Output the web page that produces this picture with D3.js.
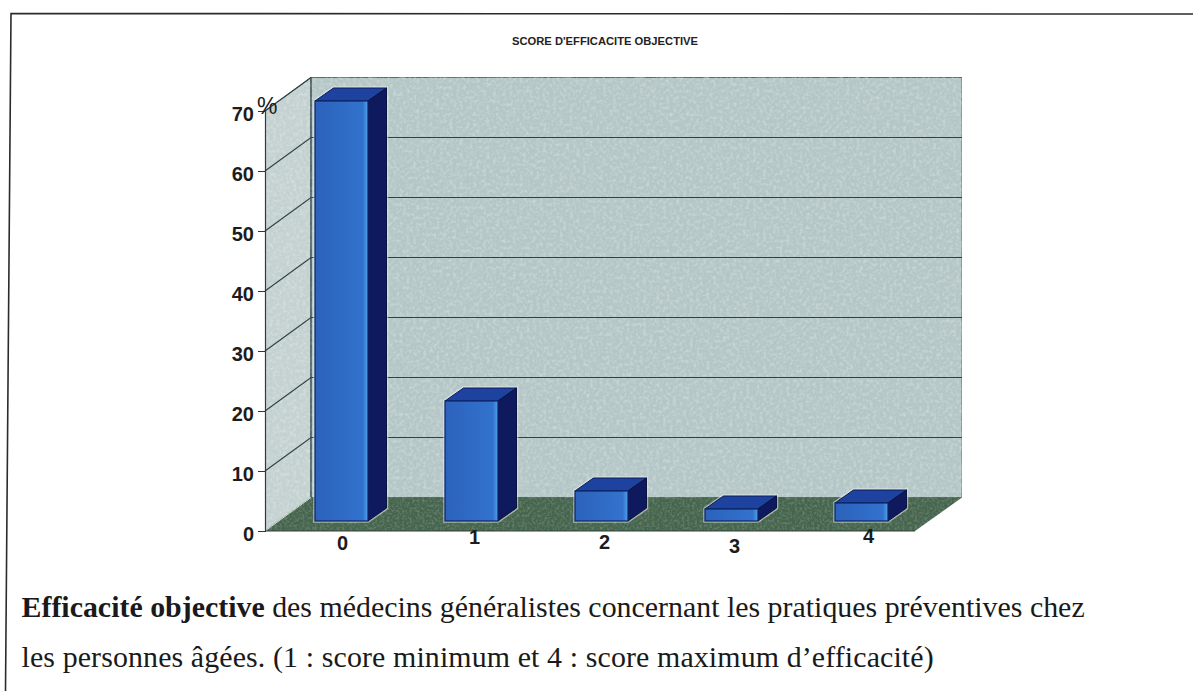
<!DOCTYPE html>
<html>
<head>
<meta charset="utf-8">
<script src="https://cdn.jsdelivr.net/npm/d3@7"></script>
<style>
  html, body { margin: 0; padding: 0; background: #fff; }
  svg { display: block; }
  .tick-label { font-family: "Liberation Sans", Arial, sans-serif; font-weight: bold; font-size: 20px; fill: #1c1c1c; }
  .caption { font-family: "Liberation Serif", "Times New Roman", serif; font-size: 29.9px; fill: #1a1a1a; }
</style>
</head>
<body>
<div id="chart"></div>
<script>
// values
var scores = ['0', '1', '2', '3', '4'];
var percents = [70, 20, 5, 2, 3];
var yTicks = [0, 10, 20, 30, 40, 50, 60, 70];
// the scanned labels sit a bit crooked, these are their offsets
var labelJitter = [
  { dx: 1, dy: 1 },
  { dx: 3, dy: -5 },
  { dx: 3, dy: 0 },
  { dx: 3, dy: 4 },
  { dx: 7, dy: -6 }
];
var chartTitle = "SCORE D'EFFICACITE OBJECTIVE";
var captionBold = 'Efficacité objective';
var captionRest = ' des médecins généralistes concernant les pratiques préventives chez';
var captionLine2 = 'les personnes âgées. (1 : score minimum et 4 : score maximum d’efficacité)';

var width = 1193, height = 691;
var depthX = 46, depthY = -33.5; // wall / floor depth
var barDepthX = 18.5, barDepthY = -13; // bar depth
var barShift = 11.5, barLift = -10; // bars stand inside the floor

var svg = d3.select('#chart').append('svg')
  .attr('width', width)
  .attr('height', height);

var x = d3.scaleBand()
  .domain(scores)
  .range([265, 915])
  .paddingInner(0.592)
  .paddingOuter(0.296);

var y = d3.scaleLinear()
  .domain([0, 70])
  .range([531, 111]);

var defs = svg.append('defs');

// speckle for the printed look
function speckle(id, freq, amount) {
  var f = defs.append('filter').attr('id', id)
    .attr('x', 0).attr('y', 0).attr('width', '100%').attr('height', '100%');
  f.append('feTurbulence')
    .attr('type', 'fractalNoise')
    .attr('baseFrequency', freq)
    .attr('numOctaves', 3)
    .attr('seed', 4)
    .attr('result', 'noise');
  f.append('feColorMatrix')
    .attr('in', 'noise')
    .attr('type', 'matrix')
    .attr('values', '0 0 0 0 1  0 0 0 0 1  0 0 0 0 1  ' + amount + ' 0 0 0 ' + (-amount * 0.42))
    .attr('result', 'spots');
  f.append('feComposite')
    .attr('in', 'spots')
    .attr('in2', 'SourceGraphic')
    .attr('operator', 'in')
    .attr('result', 'clipped');
  f.append('feMerge').selectAll('feMergeNode')
    .data(['SourceGraphic', 'clipped'])
    .enter().append('feMergeNode')
    .attr('in', function(d) { return d; });
}
speckle('grain', 0.3, 0.6);
speckle('grainDark', 0.4, 0.22);

var frontGrad = defs.append('linearGradient').attr('id', 'barFront')
  .attr('x1', 0).attr('x2', 1).attr('y1', 0).attr('y2', 0);
frontGrad.append('stop').attr('offset', '0%').attr('stop-color', '#2c62bb');
frontGrad.append('stop').attr('offset', '90%').attr('stop-color', '#3272cd');
frontGrad.append('stop').attr('offset', '97%').attr('stop-color', '#4794e2');
frontGrad.append('stop').attr('offset', '100%').attr('stop-color', '#4794e2');

// scan frame, only top and left survive
svg.append('path')
  .attr('d', 'M5.5,691L11,13.5L1193,14')
  .attr('fill', 'none')
  .attr('stroke', '#2b2b2b')
  .attr('stroke-width', 1.6);

// title
svg.append('text')
  .attr('x', 512)
  .attr('y', 44.5)
  .attr('font-family', '"Liberation Sans", Arial, sans-serif')
  .attr('font-weight', 'bold')
  .attr('font-size', 10)
  .attr('fill', '#222')
  .attr('textLength', 186)
  .attr('lengthAdjust', 'spacingAndGlyphs')
  .text(chartTitle);

var x0 = x.range()[0], x1 = x.range()[1];
var yBase = y(0), yTop = y(70);

function pts(list) {
  return list.map(function(p) { return p.join(','); }).join(' ');
}

// left wall
svg.append('polygon')
  .attr('points', pts([[x0, yBase], [x0, yTop], [x0 + depthX, yTop + depthY], [x0 + depthX, yBase + depthY]]))
  .attr('fill', '#c4d1d1')
  .attr('stroke', '#3d4f4f')
  .attr('stroke-width', 1)
  .attr('filter', 'url(#grain)');

// back wall
svg.append('rect')
  .attr('x', x0 + depthX)
  .attr('y', yTop + depthY)
  .attr('width', x1 - x0 + 1)
  .attr('height', yBase - yTop)
  .attr('fill', '#b4c6c6')
  .attr('stroke', '#5a6a6a')
  .attr('stroke-width', 1)
  .attr('filter', 'url(#grain)');

// floor
svg.append('polygon')
  .attr('points', pts([[x0, yBase], [x1, yBase], [x1 + depthX + 1, yBase + depthY], [x0 + depthX, yBase + depthY]]))
  .attr('fill', '#45664e')
  .attr('filter', 'url(#grainDark)');
svg.append('line')
  .attr('x1', x0).attr('x2', x1)
  .attr('y1', yBase).attr('y2', yBase)
  .attr('stroke', '#2f4238').attr('stroke-width', 1);

// gridlines along wall and back
var grid = svg.append('g').attr('fill', 'none').attr('stroke', '#2e4444').attr('stroke-width', 1.2);
yTicks.slice(1).forEach(function(t) {
  var py = y(t);
  var end = t === 70 ? x0 + depthX : x1 + depthX + 1;
  grid.append('path')
    .attr('d', 'M' + x0 + ',' + py + 'L' + (x0 + depthX) + ',' + (py + depthY) + 'L' + end + ',' + (py + depthY));
});
// wall corner
svg.append('line')
  .attr('x1', x0 + depthX).attr('x2', x0 + depthX)
  .attr('y1', yTop + depthY).attr('y2', yBase + depthY)
  .attr('stroke', '#2e4444').attr('stroke-width', 1);
svg.append('line')
  .attr('x1', x0).attr('x2', x0 + depthX)
  .attr('y1', yBase).attr('y2', yBase + depthY)
  .attr('stroke', '#cfdad4').attr('stroke-width', 1);

// y axis
var yAxis = d3.axisLeft(y).tickValues(yTicks).tickSize(7).tickPadding(4).tickFormat(d3.format('d'));
var yAxisG = svg.append('g')
  .attr('transform', 'translate(' + x0 + ',0)')
  .call(yAxis);
yAxisG.select('.domain').attr('stroke', '#2e3d3d').attr('stroke-width', 1.2);
yAxisG.selectAll('.tick line').attr('stroke', '#333');
yAxisG.selectAll('.tick text').attr('class', 'tick-label').attr('fill', null).attr('dy', '0.45em');

// percent sign
svg.append('text')
  .attr('class', 'tick-label')
  .attr('x', 257)
  .attr('y', 114)
  .style('font-weight', 'normal')
  .style('font-size', '23px')
  .text('%');

// bars
var bars = svg.append('g').selectAll('g.bar')
  .data(scores.map(function(s, i) { return { score: s, value: percents[i] }; }))
  .enter().append('g')
  .attr('class', 'bar')
  .attr('transform', 'translate(' + barShift + ',' + barLift + ')');

function barTopFace(d) {
  var l = x(d.score), r = l + x.bandwidth(), t = y(d.value);
  return [[l, t], [r, t], [r + barDepthX, t + barDepthY], [l + barDepthX, t + barDepthY]];
}
function barSideFace(d) {
  var r = x(d.score) + x.bandwidth(), t = y(d.value);
  return [[r, t], [r, yBase], [r + barDepthX, yBase + barDepthY], [r + barDepthX, t + barDepthY]];
}
function barOutline(d) {
  var l = x(d.score), r = l + x.bandwidth(), t = y(d.value);
  return [[l, t], [l + barDepthX, t + barDepthY], [r + barDepthX, t + barDepthY], [r + barDepthX, yBase + barDepthY], [r, yBase], [l, yBase]];
}

// light halo left by the scan
bars.append('polygon')
  .attr('points', function(d) { return pts(barOutline(d)); })
  .attr('fill', 'none')
  .attr('stroke', '#eef3ee')
  .attr('stroke-opacity', 0.55)
  .attr('stroke-width', 3.5);

bars.append('polygon')
  .attr('points', function(d) { return pts(barTopFace(d)); })
  .attr('fill', '#1d429f')
  .attr('stroke', '#0c1a55')
  .attr('stroke-width', 1);

bars.append('polygon')
  .attr('points', function(d) { return pts(barSideFace(d)); })
  .attr('fill', '#0f1a5e')
  .attr('stroke', '#0a1242')
  .attr('stroke-width', 1);

bars.append('rect')
  .attr('x', function(d) { return x(d.score); })
  .attr('y', function(d) { return y(d.value); })
  .attr('width', x.bandwidth())
  .attr('height', function(d) { return yBase - y(d.value); })
  .attr('fill', 'url(#barFront)')
  .attr('stroke', '#0d2466')
  .attr('stroke-width', 1.2);

// x labels
svg.append('g').selectAll('text')
  .data(scores)
  .enter().append('text')
  .attr('class', 'tick-label')
  .attr('text-anchor', 'middle')
  .attr('x', function(d, i) { return x(d) + x.bandwidth() / 2 + barShift + labelJitter[i].dx; })
  .attr('y', function(d, i) { return yBase + 18 + labelJitter[i].dy; })
  .text(function(d) { return d; });

// caption under the figure
var cap = svg.append('text')
  .attr('class', 'caption')
  .attr('x', 21.5)
  .attr('y', 617);
cap.append('tspan').attr('font-weight', 'bold').text(captionBold);
cap.append('tspan').text(captionRest);

svg.append('text')
  .attr('class', 'caption')
  .attr('x', 21.5)
  .attr('y', 667)
  .style('letter-spacing', '0.12px')
  .text(captionLine2);
</script>
</body>
</html>
